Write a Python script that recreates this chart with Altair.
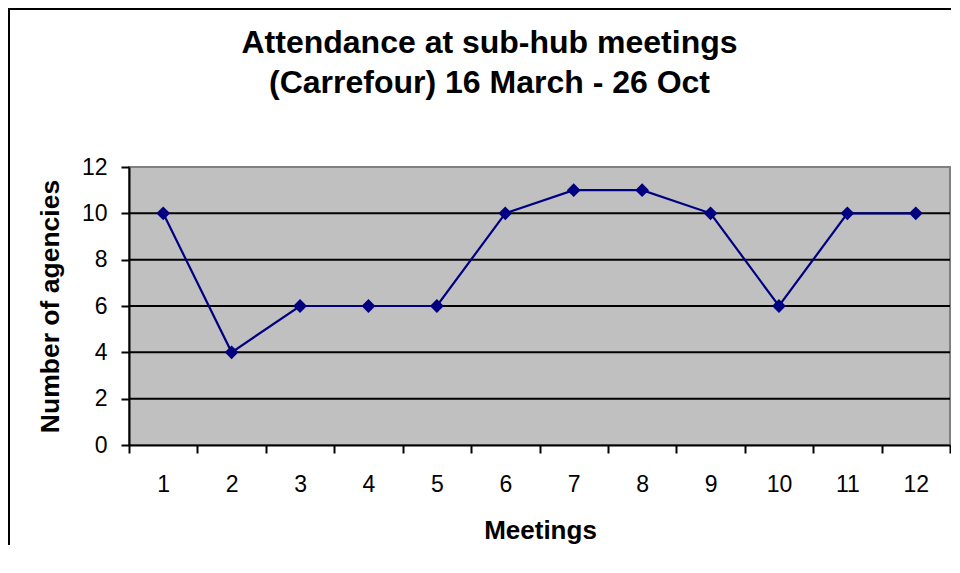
import altair as alt
import pandas as pd

meetings = [1, 2, 3, 4, 5, 6, 7, 8, 9, 10, 11, 12]
agencies = [10, 4, 6, 6, 6, 10, 11, 11, 10, 6, 10, 10]
grid_values = [2, 4, 6, 8, 10]
y_ticks = [0, 2, 4, 6, 8, 10, 12]

df = pd.DataFrame({"Meeting": meetings, "Agencies": agencies})
grid_df = pd.DataFrame({"g": grid_values})

FONT = "Liberation Sans"
NAVY = "#000080"

x_enc = alt.X(
    "Meeting:O",
    sort=meetings,
    scale=alt.Scale(type="band", paddingInner=0, paddingOuter=0),
    axis=alt.Axis(
        title="Meetings",
        labelAngle=0,
        tickBand="extent",
        tickSize=8,
        tickWidth=2,
        tickColor="black",
        domainColor="black",
        domainWidth=2,
        labelPadding=20,
        labelFontSize=23,
        labelFont=FONT,
        labelColor="black",
        titleFont=FONT,
        titleFontSize=26,
        titleFontWeight="bold",
        titleColor="black",
        titleBaseline="alphabetic",
        titleX=411,
        titleY=93,
        grid=False,
    ),
)

y_scale = alt.Scale(domain=[0, 12], nice=False)
y_enc = alt.Y(
    "Agencies:Q",
    scale=y_scale,
    axis=alt.Axis(
        title="Number of agencies",
        values=y_ticks,
        tickSize=8,
        tickWidth=2,
        tickColor="black",
        domainColor="black",
        domainWidth=2,
        labelPadding=14,
        labelFontSize=23,
        labelFont=FONT,
        labelColor="black",
        titleFont=FONT,
        titleFontSize=26.5,
        titleFontWeight="bold",
        titleColor="black",
        titleBaseline="alphabetic",
        titleAngle=-90,
        titleX=-71,
        titleY=139,
        grid=False,
    ),
)

grid = alt.Chart(grid_df).mark_rule(color="black", strokeWidth=2).encode(
    y=alt.Y("g:Q", scale=y_scale)
)

line = alt.Chart(df).mark_line(color=NAVY, strokeWidth=2.2).encode(
    x=alt.X("Meeting:O", sort=meetings, bandPosition=0.5), y=alt.Y("Agencies:Q")
)
points = alt.Chart(df).mark_point(
    shape="diamond", filled=True, color=NAVY, size=190, opacity=1
).encode(x=alt.X("Meeting:O", sort=meetings, bandPosition=0.5), y=alt.Y("Agencies:Q"))

base = alt.Chart(df).mark_point(opacity=0).encode(x=x_enc, y=y_enc)

frame_left = alt.Chart(df).mark_rule(color="black", strokeWidth=2, clip=False).encode(
    x=alt.value(-120), y=alt.value(-160), y2=alt.value(420)
)
frame_top = alt.Chart(df).mark_rule(color="black", strokeWidth=2, clip=False).encode(
    x=alt.value(-121), x2=alt.value(830), y=alt.value(-158)
)

chart = (
    alt.layer(base, grid, line, points, frame_left, frame_top)
    .properties(
        width=821,
        height=278,
        background="white",
        autosize=alt.AutoSizeParams(type="none"),
        padding={"left": 121, "top": 159, "right": 1, "bottom": 100},
        title=alt.TitleParams(
            text=["Attendance at sub-hub meetings", "(Carrefour) 16 March - 26 Oct"],
            font=FONT,
            fontSize=32,
            fontWeight="bold",
            color="black",
            anchor="middle",
            baseline="top",
            lineHeight=40,
            offset=-94,
            dx=-50,
        ),
    )
    .configure_view(fill="#C0C0C0", stroke="#808080", strokeWidth=2)
)

chart.save("out.html", embed_options={"renderer": "svg", "actions": False})
